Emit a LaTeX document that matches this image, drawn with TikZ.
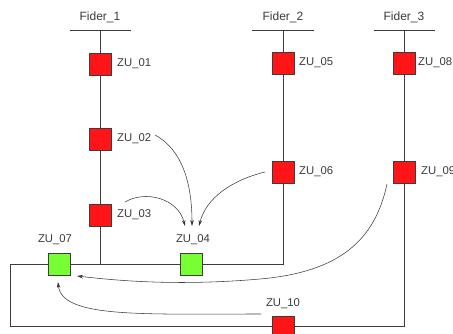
\documentclass[tikz,border=0pt]{standalone}
\usepackage{fontspec}
\setmainfont{Liberation Sans}
\usetikzlibrary{arrows.meta}
\definecolor{unitred}{HTML}{FF1418}
\definecolor{unitgreen}{HTML}{77FF33}
\definecolor{wire}{HTML}{3C3C3C}
\definecolor{txt}{HTML}{3A3A3A}
\tikzset{
  unit/.style={draw=wire, line width=0.6pt, minimum size=22pt, inner sep=0pt, fill=unitred},
  sink/.style={unit, fill=unitgreen},
  lbl/.style={text=txt, font=\fontsize{11.3}{13}\selectfont, inner sep=0pt},
  flbl/.style={text=txt, font=\fontsize{12}{14}\selectfont, inner sep=0pt},
  bus/.style={draw=wire, line width=0.6pt},
  flow/.style={draw=wire, line width=0.55pt, -{Stealth[length=6pt,width=3.6pt,fill=black]}}
}
\begin{document}
\begin{tikzpicture}[x=1pt,y=-1pt]
\useasboundingbox (0,0) rectangle (453,333);
\clip (0,0) rectangle (453,333);

% feeder heads
\node[flbl] (f1) at (100,17) {Fider\_1};
\node[flbl] (f2) at (283,17) {Fider\_2};
\node[flbl] (f3) at (404,17) {Fider\_3};
\coordinate (f1a) at (70,30);  \coordinate (f1b) at (131,30);  \coordinate (f1t) at (100,30);
\coordinate (f2a) at (252,30); \coordinate (f2b) at (314,30);  \coordinate (f2t) at (283,30);
\coordinate (f3a) at (374,30); \coordinate (f3b) at (435,30);  \coordinate (f3t) at (404,30);
\draw[bus] (f1a) -- (f1b);
\draw[bus] (f2a) -- (f2b);
\draw[bus] (f3a) -- (f3b);

% loop corners and junctions
\coordinate (j1) at (100,264);
\coordinate (j2) at (283,264);
\coordinate (j3) at (404,326);
\coordinate (tl) at (10,264);
\coordinate (bl) at (10,326);

% wires
\draw[bus] (f1t) -- (j1);
\draw[bus] (f2t) -- (j2) -- (tl) -- (bl) -- (j3) -- (f3t);

% switching units
\node[unit] (z01) at (100,64) {};
\node[unit] (z02) at (100,139) {};
\node[unit] (z03) at (100,215) {};
\node[unit] (z05) at (283,63) {};
\node[unit] (z06) at (283,172) {};
\node[unit] (z08) at (404,63) {};
\node[unit] (z09) at (404,172) {};
\node[unit] (z10) at (283,327) {};
\node[sink] (z07) at (59.5,264) {};
\node[sink] (z04) at (191.5,264) {};

% unit labels
\node[lbl, anchor=west] (l01) at (117,64) {ZU\_01};
\node[lbl, anchor=west] (l02) at (117,139) {ZU\_02};
\node[lbl, anchor=west] (l03) at (117,215) {ZU\_03};
\node[lbl, anchor=west] (l05) at (299,63) {ZU\_05};
\node[lbl, anchor=west] (l06) at (299,172) {ZU\_06};
\node[lbl, anchor=west] (l08) at (418,63) {ZU\_08};
\node[lbl, anchor=west] (l09) at (421,172) {ZU\_09};
\node[lbl] (l07) at (55,240) {ZU\_07};
\node[lbl] (l04) at (193,240) {ZU\_04};
\node[lbl] (l10) at (283,304) {ZU\_10};

% transfer paths
\coordinate (a02) at (155,135);
\coordinate (a03) at (125,202);
\coordinate (a06) at (265,172);
\coordinate (a09) at (387,184);
\coordinate (a10) at (261,314);
\coordinate (t04a) at (185,226);
\coordinate (t04b) at (192,226);
\coordinate (t04c) at (199,226);
\coordinate (t07a) at (77,276);
\coordinate (t07b) at (58,282);
\coordinate (m09) at (260,279);

\draw[flow] (a02) .. controls (183,150) and (192,185) .. (t04b);
\draw[flow] (a03) .. controls (145,190) and (178,198) .. (t04a);
\draw[flow] (a06) .. controls (232,180) and (206,198) .. (t04c);
\draw[flow] (a09) .. controls (375,240) and (340,272) .. (m09)
                  .. controls (180,286) and (120,281) .. (t07a);
\draw[flow] (a10) .. controls (140,314) and (62,318) .. (t07b);
\end{tikzpicture}
\end{document}
